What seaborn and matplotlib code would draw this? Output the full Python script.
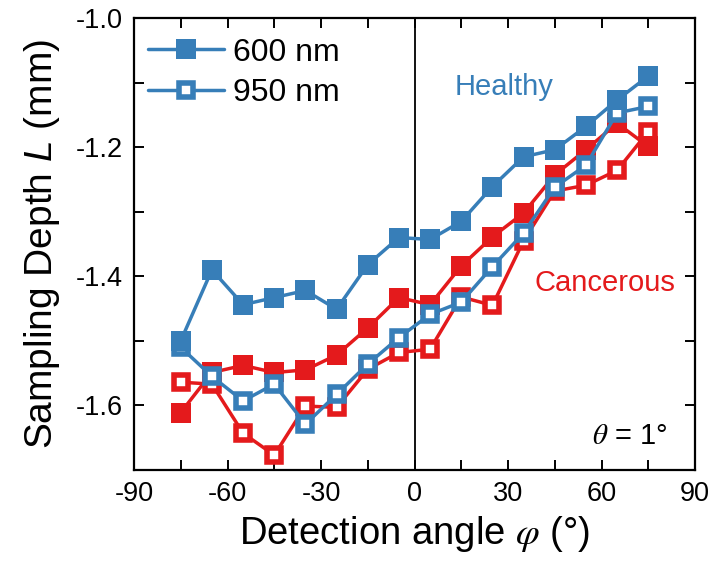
import numpy as np
import pandas as pd
import matplotlib
matplotlib.use("Agg")
import matplotlib.pyplot as plt
from matplotlib.ticker import MultipleLocator
from matplotlib.lines import Line2D
import seaborn as sns

# ---- data ----
angles = [-75, -65, -55, -45, -35, -25, -15, -5, 5, 15, 25, 35, 45, 55, 65, 75]
healthy_600 = [-1.500, -1.390, -1.444, -1.433, -1.422, -1.451, -1.382, -1.340,
               -1.343, -1.315, -1.261, -1.215, -1.204, -1.168, -1.127, -1.090]
healthy_950 = [-1.510, -1.555, -1.593, -1.567, -1.629, -1.583, -1.536, -1.495,
               -1.459, -1.440, -1.385, -1.333, -1.262, -1.228, -1.147, -1.137]
cancer_600 = [-1.611, -1.549, -1.538, -1.549, -1.545, -1.522, -1.480, -1.433,
              -1.444, -1.384, -1.339, -1.302, -1.243, -1.204, -1.163, -1.199]
cancer_950 = [-1.564, -1.567, -1.643, -1.677, -1.601, -1.603, -1.544, -1.518,
              -1.513, -1.432, -1.445, -1.345, -1.268, -1.259, -1.236, -1.176]
legend_labels = ["600 nm", "950 nm"]

BLUE = "#377eb8"
RED = "#e41a1c"

sns.set_style("ticks")
plt.rcParams['font.family'] = ['Liberation Sans', 'DejaVu Sans']
plt.rcParams['mathtext.fontset'] = 'custom'
plt.rcParams['mathtext.rm'] = 'Liberation Sans'
plt.rcParams['mathtext.it'] = 'Liberation Sans:italic'
plt.rcParams['axes.unicode_minus'] = False
for k in ['text.color', 'axes.labelcolor', 'xtick.color', 'ytick.color',
          'axes.edgecolor']:
    plt.rcParams[k] = 'black'

fig = plt.figure(figsize=(7.15, 5.73), dpi=100)
ax = fig.add_axes([134/715, 1-470/573, (695-134)/715, (470-18)/573])

ms_fill = 13.8
ms_open = 9.9
mew_open = 4.0
lw = 2.5

df = pd.DataFrame({"angle": angles, "h600": healthy_600, "h950": healthy_950,
                   "c600": cancer_600, "c950": cancer_950})

ax.axvline(0, color="black", lw=1.3, zorder=1)

def draw(col, color, filled, z):
    if filled:
        kw = dict(markersize=ms_fill, markerfacecolor=color, markeredgewidth=0)
    else:
        kw = dict(markersize=ms_open, markerfacecolor="white",
                  markeredgecolor=color, markeredgewidth=mew_open)
    sns.lineplot(data=df, x="angle", y=col, ax=ax, color=color, lw=lw,
                 marker="s", zorder=z, legend=False, **kw)

draw("c950", RED, False, 3)
draw("c600", RED, True, 4)
draw("h950", BLUE, False, 5)
draw("h600", BLUE, True, 6)

ax.set_xlim(-90, 90)
ax.set_ylim(-1.7, -1.0)
ax.xaxis.set_major_locator(MultipleLocator(30))
ax.xaxis.set_minor_locator(MultipleLocator(15))
ax.yaxis.set_minor_locator(MultipleLocator(0.1))
ax.set_yticks([-1.6, -1.4, -1.2, -1.0])
ax.set_yticklabels(["-1.6", "-1.4", "-1.2", "-1.0"])
ax.tick_params(which="both", direction="in", top=True, right=True,
               length=7, width=1.4, color="black")
ax.tick_params(which="major", labelsize=19.5, pad=8)
for s in ax.spines.values():
    s.set_linewidth(1.6)
    s.set_color("black")

ax.set_xlabel(r"Detection angle $\varphi$ (°)", fontsize=27.5, labelpad=5,
              math_fontfamily="stix")
ax.set_ylabel(r"Sampling Depth $L$ (mm)", fontsize=28, labelpad=10)

ax.text(28.6, -1.107, "Healthy", color=BLUE, fontsize=21, ha="center", va="center")
ax.text(61.1, -1.41, "Cancerous", color=RED, fontsize=21, ha="center", va="center")
ax.text(69, -1.648, r"$\theta$ = 1°", color="black", fontsize=21, ha="center",
        va="center", math_fontfamily="stix")

handles = [
    Line2D([], [], color=BLUE, lw=lw, marker="s", markersize=ms_fill,
           markerfacecolor=BLUE, markeredgewidth=0),
    Line2D([], [], color=BLUE, lw=lw, marker="s", markersize=ms_open,
           markerfacecolor="white", markeredgecolor=BLUE,
           markeredgewidth=mew_open),
]
ax.legend(handles, legend_labels, loc="upper left", frameon=False, fontsize=23,
          handlelength=2.35, handletextpad=0.3, labelspacing=0.32,
          borderaxespad=0.0, bbox_to_anchor=(0.003, 0.985))

fig.savefig("out.png", dpi=100)
